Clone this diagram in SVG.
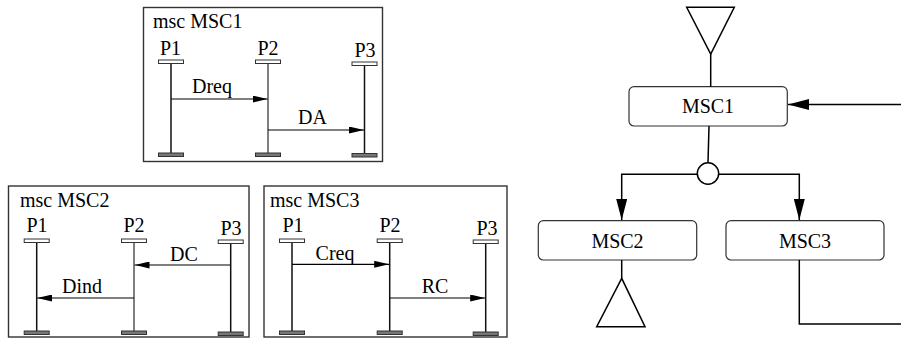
<svg xmlns="http://www.w3.org/2000/svg" width="901" height="342" viewBox="0 0 901 342">
<defs>
<style>
text{font-family:"Liberation Serif","Times New Roman",serif;font-size:20px;fill:#000}
.mid{text-anchor:middle}
.frame{fill:#fff;stroke:#333;stroke-width:1.4}
.life{stroke:#111;stroke-width:1.5}
.life2{stroke:#555;stroke-width:1.5}
.top{fill:#fff;stroke:#333;stroke-width:1}
.bot{fill:#777;stroke:#333;stroke-width:1}
.msg{stroke:#000;stroke-width:1.2;fill:none;marker-end:url(#ah)}
.box{fill:#fff;stroke:#333;stroke-width:1.2}
.edge{stroke:#000;stroke-width:1.5;fill:none}
.arr{marker-end:url(#ah2)}
.tri{fill:#fff;stroke:#000;stroke-width:1.5;stroke-linejoin:miter}
</style>
<marker id="ah" markerUnits="userSpaceOnUse" markerWidth="15" markerHeight="7" refX="15" refY="3.5" orient="auto"><path d="M0,0 L15,3.5 L0,7 z" fill="#000"/></marker>
<marker id="ah2" markerUnits="userSpaceOnUse" markerWidth="21" markerHeight="11" refX="21" refY="5.5" orient="auto"><path d="M0,0 L21,5.5 L0,11 z" fill="#000"/></marker>
</defs>
<rect width="901" height="342" fill="#fff"/>

<g id="frame-MSC1">
<rect class="frame" x="143.5" y="7.5" width="239" height="154"/>
<text x="153" y="28">msc MSC1</text>
<text class="mid" x="170.5" y="55">P1</text>
<text class="mid" x="268" y="55">P2</text>
<text class="mid" x="365" y="57">P3</text>
<line class="life" x1="171" y1="63" x2="171" y2="153"/>
<line class="life2" x1="268" y1="63" x2="268" y2="153"/>
<line class="life" x1="364.5" y1="65" x2="364.5" y2="153"/>
<rect class="top" x="158.5" y="60" width="25" height="3.5"/>
<rect class="top" x="255.5" y="60" width="25" height="3.5"/>
<rect class="top" x="352" y="62" width="25" height="3.5"/>
<rect class="bot" x="158.5" y="153" width="25" height="3.5"/>
<rect class="bot" x="255.5" y="153" width="25" height="3.5"/>
<rect class="bot" x="352" y="153.5" width="25" height="3.5"/>
<text class="mid" x="212" y="93">Dreq</text>
<text class="mid" x="312.5" y="124">DA</text>
</g>

<g id="frame-MSC2">
<rect class="frame" x="8.5" y="186" width="240.5" height="151"/>
<text x="20" y="207">msc MSC2</text>
<text class="mid" x="37" y="232">P1</text>
<text class="mid" x="134" y="232">P2</text>
<text class="mid" x="231" y="235">P3</text>
<line class="life" x1="36.7" y1="242" x2="36.7" y2="331"/>
<line class="life2" x1="134" y1="242" x2="134" y2="331"/>
<line class="life" x1="230.7" y1="243" x2="230.7" y2="332"/>
<rect class="top" x="24.2" y="239" width="25" height="3.5"/>
<rect class="top" x="121.5" y="239" width="25" height="3.5"/>
<rect class="top" x="218.2" y="240" width="25" height="3.5"/>
<rect class="bot" x="24.2" y="331" width="25" height="3.5"/>
<rect class="bot" x="121.5" y="331" width="25" height="3.5"/>
<rect class="bot" x="218.2" y="332" width="25" height="3.5"/>
<text class="mid" x="184" y="261">DC</text>
<text class="mid" x="82" y="293">Dind</text>
</g>

<g id="frame-MSC3">
<rect class="frame" x="264" y="186" width="243" height="151"/>
<text x="270" y="207">msc MSC3</text>
<text class="mid" x="293" y="232">P1</text>
<text class="mid" x="390" y="232">P2</text>
<text class="mid" x="487" y="235">P3</text>
<line class="life" x1="292" y1="242" x2="292" y2="331"/>
<line class="life" x1="389.7" y1="242" x2="389.7" y2="331"/>
<line class="life" x1="485.7" y1="243" x2="485.7" y2="332"/>
<rect class="top" x="279.5" y="239" width="25" height="3.5"/>
<rect class="top" x="377.2" y="239" width="25" height="3.5"/>
<rect class="top" x="473.2" y="240" width="25" height="3.5"/>
<rect class="bot" x="279.5" y="331" width="25" height="3.5"/>
<rect class="bot" x="377.2" y="331" width="25" height="3.5"/>
<rect class="bot" x="473.2" y="332" width="25" height="3.5"/>
<text class="mid" x="335" y="260">Creq</text>
<text class="mid" x="435" y="293">RC</text>
</g>

<g id="messages">
<line class="msg" x1="171" y1="99" x2="267.5" y2="99"/>
<line class="msg" x1="268" y1="130" x2="364" y2="130"/>
<line class="msg" x1="230.7" y1="265" x2="134.5" y2="265"/>
<line class="msg" x1="134" y1="298" x2="37.2" y2="298"/>
<line class="msg" x1="292" y1="264.3" x2="389.2" y2="264.3"/>
<line class="msg" x1="389.7" y1="298" x2="485.2" y2="298"/>
</g>

<g id="start">
<polygon class="tri" points="686.7,7.3 734.3,7.3 710.7,54"/>
</g>
<g id="node-MSC1">
<rect class="box" x="629" y="86.7" width="158.3" height="39.3" rx="5"/>
<text class="mid" x="708" y="113">MSC1</text>
</g>
<g id="alt">
<circle cx="708" cy="173.5" r="10.7" fill="#fff" stroke="#000" stroke-width="1.5"/>
</g>
<g id="node-MSC2">
<rect class="box" x="538.3" y="220.7" width="158.4" height="39.3" rx="5"/>
<text class="mid" x="617.5" y="248.3">MSC2</text>
</g>
<g id="node-MSC3">
<rect class="box" x="726" y="220.7" width="158" height="39.3" rx="5"/>
<text class="mid" x="805" y="248.3">MSC3</text>
</g>
<g id="end">
<polygon class="tri" points="621.7,278.3 596.7,326.7 645,326.7"/>
</g>

<g id="connectors">
<line class="edge" x1="710.7" y1="54" x2="710.7" y2="86.7"/>
<line class="edge arr" x1="901" y1="104.5" x2="788" y2="104.5"/>
<line class="edge" x1="709" y1="126" x2="708" y2="162.8"/>
<path class="edge arr" d="M697.3,174.3 H621.7 V220"/>
<path class="edge arr" d="M718.7,174.3 H799.3 V220"/>
<line class="edge" x1="621.7" y1="260" x2="621.7" y2="278.3"/>
<path class="edge" d="M799.3,260 V324 H901"/>
</g>
</svg>
